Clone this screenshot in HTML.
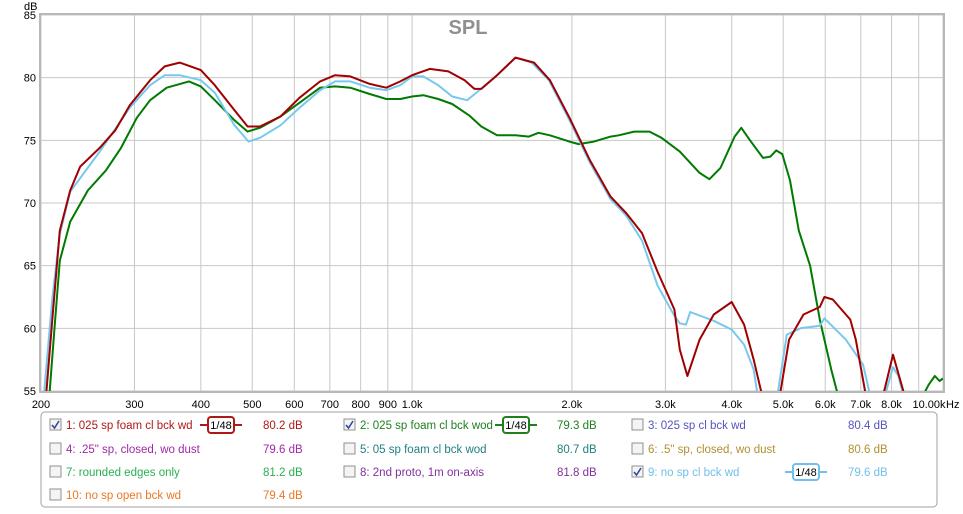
<!DOCTYPE html>
<html><head><meta charset="utf-8">
<style>
body{margin:0;background:#fff;width:963px;height:509px;overflow:hidden;font-family:"Liberation Sans",sans-serif}
svg text{font-family:"Liberation Sans",sans-serif}
</style></head>
<body>
<svg id="chart" width="963" height="509" viewBox="0 0 963 509" xmlns="http://www.w3.org/2000/svg">
<defs><clipPath id="plotclip"><rect x="41" y="15" width="902" height="376"/></clipPath></defs>
<rect x="0" y="0" width="963" height="509" fill="#fff"/>
<g id="grid"></g>
<g id="axes"></g>
<g id="series" clip-path="url(#plotclip)"></g>
<rect x="40" y="14" width="904" height="378" fill="none" stroke="#b8b8b8" stroke-width="2"/>
<text x="468" y="34" text-anchor="middle" font-size="20" font-weight="bold" fill="#909090">SPL</text>
<text x="24" y="10" font-size="11" fill="#000">dB</text>
<text x="946" y="408" font-size="11" fill="#000">Hz</text>
<g id="legend"></g>
</svg>
<script>
const yTicks=[55,60,65,70,75,80,85];
const xGrid=[200,300,400,500,600,700,800,900,1000,2000,3000,4000,5000,6000,7000,8000,9000,10000];
const xTickVals=[200,300,400,500,600,700,800,900,1000,2000,3000,4000,5000,6000,7000,8000,10000];
const xTickLabels=["200","300","400","500","600","700","800","900","1.0k","2.0k","3.0k","4.0k","5.0k","6.0k","7.0k","8.0k","10.00k"];

const redFreq=[203,210,217,227,237,258,276,294,321,342,365,400,425,463,490,517,565,614,671,716,765,832,894,950,1000,1080,1170,1256,1310,1350,1446,1566,1697,1818,1979,2163,2365,2530,2710,2900,3120,3194,3300,3480,3700,4000,4220,4400,4600,null,4900,5130,5460,5860,5980,6200,6690,6850,7200,null,7650,8050,8550];
const redDb=[53,60.6,67.8,71,72.9,74.4,75.8,77.8,79.8,80.9,81.2,80.6,79.4,77.4,76.1,76.1,76.9,78.4,79.7,80.2,80.1,79.5,79.2,79.7,80.2,80.7,80.5,79.8,79.1,79.1,80.2,81.6,81.2,79.8,76.8,73.4,70.5,69.2,67.6,64.5,61.5,58.3,56.2,59.1,61.1,62.1,60.3,57.5,54,null,54,59.1,61.1,61.7,62.5,62.3,60.7,59.1,54,null,54,57.9,54];

const blueFreq=[201,210,217,227,258,294,321,342,365,400,425,463,492,517,565,614,671,716,765,832,894,950,1000,1050,1120,1190,1270,1330,1446,1566,1680,1810,1979,2163,2365,2530,2710,2900,3120,3194,3280,3340,3700,4000,4220,4400,4500,null,4850,5080,5390,5860,5980,6560,7070,7350,null,7700,8050,8240,8500];
const blueDb=[53,62.3,67.5,70.9,74.1,77.6,79.4,80.2,80.2,79.8,78.8,76.2,74.9,75.2,76.2,77.6,79,79.7,79.7,79.2,79,79.4,80.1,80.1,79.4,78.5,78.2,78.9,80.2,81.6,81.2,79.8,76.6,73.2,70.3,69,67,63.4,61,60.4,60.3,61.3,60.6,59.9,58.7,56.7,54,null,54,59.5,60,60.2,60.8,59.1,57.1,54,null,54,56.9,56.2,54];

const greenFreq=[206,212,217,227,245,265,283,303,321,345,380,400,425,463,490,517,565,614,671,716,765,832,894,950,1000,1050,1120,1190,1280,1350,1446,1566,1660,1730,1818,1979,2060,2200,2365,2450,2620,2800,2950,3194,3480,3630,3810,4050,4170,4330,4580,4730,4850,4980,5150,5350,5620,5860,6160,6400,null,9000,9400,9650,9850,10000];
const greenDb=[53,59.9,65.4,68.5,71,72.6,74.4,76.8,78.2,79.2,79.7,79.3,78.2,76.6,75.7,76,76.9,78,79.2,79.3,79.2,78.7,78.3,78.3,78.5,78.6,78.3,77.9,77,76.1,75.4,75.4,75.3,75.6,75.4,74.9,74.7,74.9,75.3,75.4,75.7,75.7,75.2,74.1,72.4,71.9,72.8,75.3,76,75,73.6,73.7,74.2,73.9,71.8,67.8,65,60.7,56.7,54,null,54,55.5,56.2,55.8,56];

const X0=41,X1=943,Y0=15,Y1=391,FMIN=200,FMAX=10000,DMIN=55,DMAX=85;
function xs(f){return X0+(X1-X0)*Math.log10(f/FMIN)/Math.log10(FMAX/FMIN);}
function ys(d){return Y1-(Y1-Y0)*(d-DMIN)/(DMAX-DMIN);}
const NS="http://www.w3.org/2000/svg";
function mk(tag,attrs,parent){const e=document.createElementNS(NS,tag);for(const k in attrs)e.setAttribute(k,attrs[k]);parent.appendChild(e);return e;}
const grid=document.getElementById('grid'),axes=document.getElementById('axes'),series=document.getElementById('series'),legend=document.getElementById('legend');

yTicks.forEach(d=>{
  const l=mk('line',{x1:X0,x2:X1,y1:ys(d),y2:ys(d),stroke:'#c8c8c8','stroke-width':1},grid);
  
  
  const t=mk('text',{x:36,y:ys(d)+4,'text-anchor':'end','font-size':11,fill:'#000'},axes);
  
  
  t.textContent=d;
});
xGrid.forEach(f=>{
  const l=mk('line',{x1:xs(f),x2:xs(f),y1:Y0,y2:Y1,stroke:'#c8c8c8','stroke-width':1},grid);
  
  
});
xTickVals.forEach((f,i)=>{
  const t=mk('text',{x:i==xTickVals.length-1?xs(f)-14:xs(f),y:408,'text-anchor':'middle','font-size':11,fill:'#000'},axes);
  
  
  t.textContent=xTickLabels[i];
});
function drawSeries(fr,db,color,name){
  let d='',pen=false;
  for(let i=0;i<fr.length;i++){
    if(fr[i]===null){pen=false;continue;}
    d+=(pen?'L':'M')+xs(fr[i]).toFixed(1)+','+ys(db[i]).toFixed(1)+' ';pen=true;
  }
  const p=mk('path',{d:d,fill:'none',stroke:color,'stroke-width':2,'stroke-linejoin':'round'},series);
  
  
}
drawSeries(greenFreq,greenDb,'#007a00','series-2-line');
drawSeries(blueFreq,blueDb,'#78c8ee','series-9-line');
drawSeries(redFreq,redDb,'#a00000','series-1-line');

const lb=mk('rect',{x:41,y:412,width:896,height:95,rx:4,fill:'#fff',stroke:'#a0a0a0'},legend);


const legNames=["1: 025 sp foam cl bck wd","2: 025 sp foam cl bck wod","3: 025 sp cl bck wd","4: .25\" sp, closed, wo dust","5: 05 sp foam cl bck wod","6: .5\" sp, closed, wo dust","7: rounded edges only","8: 2nd proto, 1m on-axis","9: no sp cl bck wd","10: no sp open bck wd"];
const legValues=["80.2 dB","79.3 dB","80.4 dB","79.6 dB","80.7 dB","80.6 dB","81.2 dB","81.8 dB","79.6 dB","79.4 dB"];
const legColors=["#b01818","#208020","#5555bb","#a028a8","#208080","#b09030","#28b050","#8030a0","#70c0e8","#e87828"];
const legChecked=[true,true,false,false,false,false,false,false,true,false];
const colX=[50,344,632],valX=[263,557,848],badgeX=[208,503,793],rowY=[425,449,472,495];
legNames.forEach((n,i)=>{
  const c=i%3,r=Math.floor(i/3),cx=colX[c],cy=rowY[r];
  const g=mk('g',{},legend);
  
  
  const cb=mk('rect',{x:cx,y:cy-6,width:11,height:11,fill:'#f4f4f4',stroke:'#909090'},g);
  
  
  if(legChecked[i]){const ck=mk('path',{d:`M${cx+2},${cy} L${cx+4.5},${cy+3} L${cx+9},${cy-4}`,fill:'none',stroke:'#3048a0','stroke-width':1.6},g);}
  const t=mk('text',{x:cx+16,y:cy+4,'font-size':11.5,fill:legColors[i]},g);
  
  
  t.textContent=n;
  const v=mk('text',{x:valX[c],y:cy+4,'font-size':11.5,fill:legColors[i]},g);
  
  
  v.textContent=legValues[i];
  if(legChecked[i]){
    const bx=badgeX[c];
    const bl=mk('line',{x1:bx-8,x2:bx+34,y1:cy,y2:cy,stroke:legColors[i],'stroke-width':2},g);
    
    
    const br=mk('rect',{x:bx,y:cy-8,width:26,height:16,rx:3,fill:'#fff',stroke:legColors[i],'stroke-width':2},g);
    
    
    const bt=mk('text',{x:bx+13,y:cy+4,'text-anchor':'middle','font-size':11,fill:'#000'},g);
    
    
    bt.textContent='1/48';
  }
});
</script>
</body></html>
